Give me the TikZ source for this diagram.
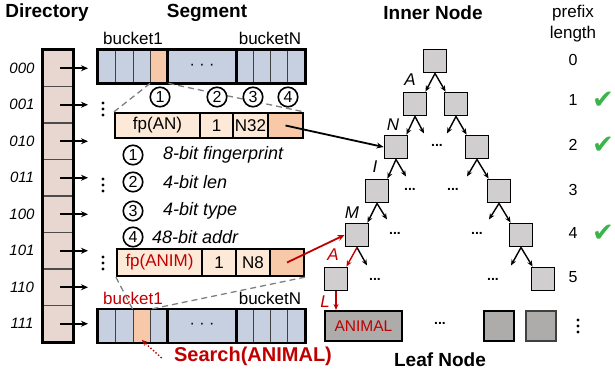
\documentclass[tikz,border=0pt]{standalone}
\usepackage{fontspec}
\setmainfont{Liberation Sans}
\newfontfamily\symfont{DejaVu Sans}
\usetikzlibrary{arrows.meta}
\definecolor{dirfill}{HTML}{E8D6D1}
\definecolor{segblue}{HTML}{C6D0E1}
\definecolor{orng}{HTML}{F7C9A8}
\definecolor{peach}{HTML}{FDE9D7}
\definecolor{tgray}{HTML}{D0CECE}
\definecolor{lgray}{HTML}{AEABAB}
\definecolor{myred}{HTML}{C00000}
\definecolor{mygreen}{HTML}{3BB54A}
\tikzset{
 hdr/.style={font=\fontsize{19}{19}\selectfont\bfseries},
 dlbl/.style={font=\fontsize{15}{15}\selectfont\itshape},
 txt/.style={font=\fontsize{17}{17}\selectfont},
 itxt/.style={font=\fontsize{18}{18}\selectfont\itshape},
 numtxt/.style={font=\fontsize{16}{16}\selectfont},
 dircell/.style={draw=black!70, line width=1.5pt, fill=dirfill, minimum width=30pt, minimum height=36.5pt, inner sep=0},
 bcell/.style={draw=black!75, line width=0.8pt, fill=segblue, minimum height=33pt, inner sep=0},
 ecell/.style={draw, line width=2.2pt, fill=peach, inner sep=0, font=\fontsize{17}{17}\selectfont},
 arr/.style={-{Stealth[length=7pt,width=6pt]}, line width=1.6pt},
 tarr/.style={-{Stealth[length=6pt,width=5pt]}, line width=1.4pt},
 tnode/.style={draw, line width=1.9pt, fill=tgray, minimum size=23pt, inner sep=0},
 lnode/.style={draw, line width=2.1pt, fill=lgray, minimum height=30pt, inner sep=0},
 circ/.style={circle, draw, line width=1.6pt, fill=white, inner sep=0, minimum size=19.5pt, font=\fontsize{16}{16}\selectfont},
 tdots/.style={font=\fontsize{14}{14}\selectfont\bfseries, inner sep=0},
 dashl/.style={draw=gray, line width=1.3pt, dash pattern=on 6pt off 4pt},
 lbltree/.style={font=\fontsize{17}{17}\selectfont\itshape, inner sep=0},
 chk/.style={font=\symfont\fontsize{26}{26}\selectfont, text=mygreen, inner sep=0},
}
\begin{document}
\begin{tikzpicture}[x=1pt,y=-1pt]
\useasboundingbox (0,0) rectangle (615,375);

% headers
\node[hdr] (hdir) at (47,13) {Directory};
\node[hdr] (hseg) at (207,13) {Segment};
\node[hdr] (hin) at (433,13) {Inner Node};
\node[txt] (hpre) at (573,13) {prefix};
\node[txt] (hlen) at (573,34) {length};
\node[hdr] (hleaf) at (440,360) {Leaf Node};

% directory
\foreach \i/\t in {0/000,1/001,2/010,3/011,4/100,5/101,6/110,7/111}{
  \node[dircell] (d\i) at (58,{68.25+36.5*\i}) {};
  \node[dlbl] (l\i) at (22,{68.25+36.5*\i}) {\t};
  \coordinate (p\i) at (88,{68.25+36.5*\i});
}
\draw[line width=2.6pt] (d0.north west) rectangle (d7.south east);
\foreach \i in {0,...,7}{
  \draw[arr] ([xshift=2pt]d\i.center) -- (p\i);
}

% top segment
\foreach \i/\x in {1/106.75,2/124.25,3/141.75}{
  \node[bcell, minimum width=17.5pt] (t\i) at (\x,66.5) {};
}
\node[bcell, fill=orng, minimum width=17.5pt] (t4) at (159.25,66.5) {};
\node[bcell, minimum width=68pt, font=\fontsize{16}{16}\selectfont] (tdots) at (202,66.5) {· · ·};
\foreach \i/\x in {5/244.625,6/261.875,7/279.125,8/296.375}{
  \node[bcell, minimum width=17.25pt] (t\i) at (\x,66.5) {};
}
\draw[line width=2.4pt] (t1.north west) rectangle (t8.south east);
\draw[line width=2.4pt] (tdots.north west) -- (tdots.south west) (tdots.north east) -- (tdots.south east);
\node[txt] (bk1) at (133,38) {bucket1};
\node[txt] (bkN) at (270,38) {bucketN};

% bottom segment
\foreach \i/\x in {1/106.75,2/124.25,4/159.25}{
  \node[bcell, minimum width=17.5pt] (b\i) at (\x,326) {};
}
\node[bcell, fill=orng, minimum width=17.5pt] (b3) at (141.75,326) {};
\node[bcell, minimum width=68pt, font=\fontsize{16}{16}\selectfont] (bdots) at (202,326) {· · ·};
\foreach \i/\x in {5/244.625,6/261.875,7/279.125,8/296.375}{
  \node[bcell, minimum width=17.25pt] (b\i) at (\x,326) {};
}
\draw[line width=2.4pt] (b1.north west) rectangle (b8.south east);
\draw[line width=2.4pt] (bdots.north west) -- (bdots.south west) (bdots.north east) -- (bdots.south east);
\node[txt, text=myred] (bbk1) at (133,298) {bucket1};
\node[txt] (bbkN) at (270,298) {bucketN};

% entry 1
\node[ecell, minimum width=85pt, minimum height=25pt] (e1fp) at (157.5,125.5) {fp(AN)};
\node[ecell, minimum width=33pt, minimum height=25pt] (e1l) at (216.5,125.5) {1};
\node[ecell, minimum width=35pt, minimum height=25pt] (e1t) at (250.5,125.5) {N32};
\node[ecell, fill=orng, minimum width=35pt, minimum height=25pt] (e1o) at (285.5,125.5) {};

% entry 2
\node[ecell, minimum width=85pt, minimum height=27pt, text=myred] (e2fp) at (159.5,262.5) {fp(ANIM)};
\node[ecell, minimum width=34pt, minimum height=27pt] (e2l) at (219,262.5) {1};
\node[ecell, minimum width=34pt, minimum height=27pt] (e2t) at (253,262.5) {N8};
\node[ecell, fill=orng, minimum width=34pt, minimum height=27pt] (e2o) at (287,262.5) {};

% dashed zoom lines
\draw[dashl] (t4.south west) -- (e1fp.north west);
\draw[dashl] (t4.south east) -- (e1o.north east);
\draw[dashl] (e2fp.south west) -- (b3.north west);
\draw[dashl] (e2o.south east) -- (b3.north east);

% circled numbers
\node[circ] (c1) at (160,97) {1};
\node[circ] (c2) at (217,97) {2};
\node[circ] (c3) at (253,97) {3};
\node[circ] (c4) at (288,97) {4};

% legend
\node[circ] (g1) at (133,155) {1};
\node[circ] (g2) at (133,182) {2};
\node[circ] (g3) at (133,211) {3};
\node[circ] (g4) at (133,237) {4};
\node[itxt, anchor=west, inner sep=0] (gt1) at (163,155) {8-bit fingerprint};
\node[itxt, anchor=west, inner sep=0] (gt2) at (163,182) {4-bit len};
\node[itxt, anchor=west, inner sep=0] (gt3) at (163,211) {4-bit type};
\node[itxt, anchor=west, inner sep=0] (gt4) at (152,237) {48-bit addr};

% vertical dots
\foreach \y in {109,185,263}{
  \fill (103,\y-6) circle (1.6pt) (103,\y) circle (1.6pt) (103,\y+6) circle (1.6pt);
}
\fill (578,320) circle (1.6pt) (578,326) circle (1.6pt) (578,332) circle (1.6pt);

% tree nodes
\node[tnode] (r) at (435,61) {};
\node[tnode] (a1) at (415,104) {};
\node[tnode] (b1n) at (456,104) {};
\node[tnode] (a2) at (396,147) {};
\node[tnode] (b2n) at (477,147) {};
\node[tnode] (a3) at (377,191) {};
\node[tnode] (b3n) at (499,191) {};
\node[tnode] (a4) at (357,235) {};
\node[tnode] (b4n) at (521,235) {};
\node[tnode] (a5) at (336,279) {};
\node[tnode] (b5n) at (543,279) {};
\node[lnode, minimum width=77pt, text=myred, font=\fontsize{15.5}{15.5}\selectfont] (leafA) at (363.5,326) {ANIMAL};
\node[lnode, minimum width=30pt] (leaf2) at (499,326) {};
\node[lnode, minimum width=30pt, draw=black!75] (leaf3) at (541,326) {};

% tree arrows
\draw[tarr] (r.south) -- ([xshift=-2pt]a1.north east);
\draw[tarr] (r.south) -- ([xshift=2pt]b1n.north west);
\draw[tarr] (a1.south) -- ([xshift=-2pt]a2.north east);
\draw[tarr] (a1.south) -- ++(9,17);
\draw[tarr] (b1n.south) -- ++(-9,17);
\draw[tarr] (b1n.south) -- ([xshift=2pt]b2n.north west);
\draw[tarr] (a2.south) -- ([xshift=-2pt]a3.north east);
\draw[tarr] (a2.south) -- ++(10,17);
\draw[tarr] (b2n.south) -- ++(-10,17);
\draw[tarr] (b2n.south) -- ([xshift=2pt]b3n.north west);
\draw[tarr] (a3.south) -- ([xshift=-2pt]a4.north east);
\draw[tarr] (a3.south) -- ++(10,16);
\draw[tarr] (b3n.south) -- ++(-10,16);
\draw[tarr] (b3n.south) -- ([xshift=2pt]b4n.north west);
\draw[tarr, myred] (a4.south) -- ([xshift=-2pt]a5.north east);
\draw[tarr] (a4.south) -- ++(10,18);
\draw[tarr] (b4n.south) -- ++(-10,18);
\draw[tarr] (b4n.south) -- ([xshift=2pt]b5n.north west);
\draw[tarr, myred] (a5.south) -- (a5.south |- leafA.north);

% tree labels
\node[lbltree] (la) at (410,80) {A};
\node[lbltree] (ln) at (393,125) {N};
\node[lbltree] (li) at (375,167) {I};
\node[lbltree] (lm) at (352,213) {M};
\node[lbltree, text=myred] (la2) at (333,255) {A};
\node[lbltree, text=myred] (ll) at (325,302) {L};

% tree dots
\node[tdots] (dt1) at (437,145) {...};
\node[tdots] (dt2) at (410,189) {...};
\node[tdots] (dt3) at (453,189) {...};
\node[tdots] (dt4) at (395,233) {...};
\node[tdots] (dt5) at (477,233) {...};
\node[tdots] (dt6) at (375,279) {...};
\node[tdots] (dt7) at (493,279) {...};
\node[tdots] (dt8) at (440,323) {...};

% pointers
\draw[arr, line width=1.8pt] (e1o.center) -- (a2.west);
\draw[arr, line width=1.8pt, myred] (e2o.center) -- (a4.west);

% search
\node[font=\fontsize{20}{20}\selectfont\bfseries, text=myred] (srch) at (253,356) {Search(ANIMAL)};
\draw[-{Stealth[length=6pt,width=5pt]}, myred, line width=1.4pt, dotted] ([xshift=-9pt,yshift=-2pt]srch.west) -- ([yshift=3pt]b3.south);

% prefix lengths
\node[numtxt] (n0) at (573,60) {0};
\node[numtxt] (n1) at (573,100) {1};
\node[numtxt] (n2) at (573,145) {2};
\node[numtxt] (n3) at (573,190) {3};
\node[numtxt] (n4) at (573,233) {4};
\node[numtxt] (n5) at (573,277) {5};
\node[chk] (k1) at (603,100) {✔};
\node[chk] (k2) at (603,145) {✔};
\node[chk] (k4) at (603,233) {✔};
\end{tikzpicture}
\end{document}
